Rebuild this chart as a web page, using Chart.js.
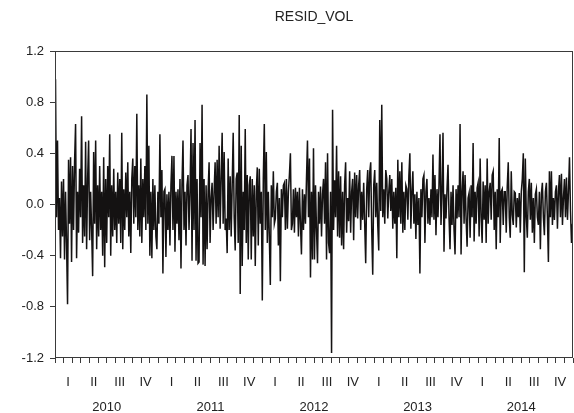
<!DOCTYPE html>
<html>
<head>
<meta charset="utf-8">
<script src="https://cdn.jsdelivr.net/npm/chart.js@4/dist/chart.umd.min.js"></script>
<style>
html,body{margin:0;padding:0;background:#fff;}
canvas{display:block;}
</style>
</head>
<body>
<canvas id="c" width="574" height="413"></canvas>
<script>
// ---- data (~1 value per pixel column, Jan 2010 - Dec 2014) ----
const chartTitle = 'RESID_VOL';
const years = ['2010', '2011', '2012', '2013', '2014'];
const quarterLabels = ['I', 'II', 'III', 'IV'];
const yTicks = [-1.2, -0.8, -0.4, 0.0, 0.4, 0.8, 1.2];
const residVol = [
 0.98,-0.10,0.50,-0.20,0.05,-0.42,0.18,-0.25,0.20,-0.43,
 0.10,-0.30,-0.78,0.35,-0.15,0.37,-0.45,0.30,-0.20,0.33,
 0.63,-0.42,0.10,-0.22,0.28,-0.10,0.69,-0.30,0.15,-0.25,
 0.49,-0.35,0.20,0.50,-0.28,0.10,-0.20,-0.56,0.41,-0.15,
 0.50,-0.35,0.15,-0.25,0.30,-0.20,0.10,-0.40,0.37,-0.49,
 0.20,-0.30,0.30,-0.10,0.55,-0.40,0.15,-0.25,0.28,-0.20,
 0.10,-0.30,0.25,-0.15,0.20,-0.30,0.56,-0.35,0.12,-0.20,
 0.25,-0.10,0.33,-0.25,0.10,-0.38,0.20,0.36,-0.15,0.30,
 -0.10,0.71,-0.20,0.15,-0.25,0.36,-0.30,0.20,-0.10,0.30,
 -0.20,0.86,-0.15,0.46,-0.40,0.10,-0.42,0.20,-0.20,0.15,
 -0.25,-0.35,0.10,-0.15,0.55,-0.10,0.27,-0.54,0.10,0.12,
 -0.41,0.08,-0.20,0.10,-0.32,0.15,0.38,-0.20,0.38,-0.37,
 0.10,-0.15,0.12,-0.28,0.20,-0.50,0.15,0.50,-0.20,0.10,
 -0.32,0.15,0.23,-0.20,0.10,0.59,-0.44,0.48,-0.20,0.66,
 -0.44,0.20,-0.46,-0.45,0.48,-0.10,0.78,-0.47,0.20,-0.48,
 0.15,-0.35,0.10,0.33,-0.30,0.05,0.17,-0.20,0.10,0.33,
 -0.15,0.35,-0.10,0.46,-0.19,0.20,0.56,-0.15,0.41,-0.20,
 -0.11,-0.38,0.36,-0.20,0.22,-0.25,0.15,0.56,-0.10,-0.36,
 0.20,0.25,-0.30,0.70,-0.70,0.46,-0.48,0.10,-0.20,0.59,
 -0.30,0.23,-0.43,0.15,0.22,-0.43,0.20,-0.25,0.15,-0.48,
 0.10,0.29,-0.32,0.28,-0.15,0.10,-0.75,0.20,0.63,-0.20,
 0.41,-0.30,0.10,-0.25,-0.63,0.15,-0.10,0.26,-0.15,-0.11,
 0.10,0.17,-0.32,0.05,-0.60,0.12,-0.10,0.15,0.17,-0.20,
 0.20,-0.19,0.10,0.23,0.40,-0.20,-0.15,0.12,-0.22,0.13,
 -0.10,0.10,-0.25,0.13,-0.15,-0.39,0.12,-0.20,0.08,-0.15,
 0.20,0.50,-0.10,0.36,-0.57,0.10,-0.43,0.44,-0.43,0.15,
 -0.20,-0.46,0.10,-0.15,0.14,-0.25,0.08,0.20,-0.15,0.33,
 -0.43,0.40,-0.30,-0.38,0.10,-1.16,0.74,-0.20,0.19,-0.10,
 0.46,-0.25,0.26,-0.26,0.22,-0.32,0.10,-0.35,0.15,0.33,
 -0.22,0.05,-0.13,0.26,-0.22,0.10,0.20,-0.28,0.25,-0.10,
 0.23,-0.11,0.15,0.27,-0.20,0.10,-0.12,0.17,-0.15,-0.46,
 0.12,0.27,-0.10,0.25,0.33,-0.20,-0.55,0.15,0.27,-0.10,
 0.17,-0.16,-0.36,0.66,-0.05,0.78,-0.10,0.12,-0.15,0.27,
 0.20,-0.11,0.10,0.23,-0.05,0.20,-0.19,0.10,-0.15,0.13,
 -0.42,0.35,-0.10,0.26,-0.15,0.33,-0.22,0.10,-0.20,0.15,
 0.12,-0.12,0.22,0.40,-0.19,0.10,0.26,-0.15,0.08,-0.27,
 0.10,-0.16,0.05,-0.54,0.12,-0.10,0.20,0.23,-0.30,0.10,
 0.20,-0.15,0.05,-0.16,0.12,-0.10,0.39,-0.12,0.23,-0.24,
 0.12,-0.10,0.15,0.55,-0.16,0.10,0.56,-0.37,0.08,-0.11,
 0.12,0.31,-0.10,-0.35,0.10,-0.16,0.15,-0.20,-0.39,0.12,
 -0.11,0.15,-0.10,0.63,-0.39,0.10,0.26,-0.15,0.23,-0.11,
 -0.33,0.05,0.09,-0.26,0.15,-0.10,0.48,-0.29,0.10,-0.15,
 0.13,0.17,-0.25,0.36,-0.10,-0.30,0.18,-0.12,0.15,-0.30,
 0.36,-0.15,0.10,0.17,-0.12,0.23,0.26,-0.20,0.10,-0.35,
 0.12,-0.10,0.52,-0.30,0.10,0.12,-0.16,0.10,0.10,-0.22,
 0.14,0.33,-0.10,-0.26,0.26,-0.08,-0.16,0.10,0.09,-0.18,
 0.05,-0.10,0.09,-0.22,0.10,0.20,0.40,-0.53,0.36,-0.10,
 -0.26,0.10,0.20,-0.12,0.17,-0.22,0.05,-0.30,0.08,0.12,
 -0.10,-0.16,0.10,-0.35,0.08,0.17,-0.10,-0.24,0.10,0.17,
 -0.10,-0.45,0.26,-0.10,0.26,-0.16,0.05,-0.12,0.10,0.15,
 -0.19,0.10,0.23,-0.10,0.24,-0.16,0.05,0.20,-0.10,0.21,
 -0.12,0.10,0.37,-0.05,-0.30,-0.15
];

// ---- build chart structures from the arrays ----
const nMonths = years.length * 12;
const points = residVol.map((v, i) => ({ x: nMonths * (i + 0.5) / residVol.length, y: v }));
const quarterTicks = [];
for (let y = 0; y < years.length; y++) {
  for (let q = 0; q < 4; q++) quarterTicks.push({ value: y * 12 + q * 3 + 1.5, label: quarterLabels[q] });
}
const yearTicks = years.map((lab, i) => ({ value: i * 12 + 6, label: lab }));
const monthTicks = [];
for (let m = 0; m <= nMonths; m++) monthTicks.push({ value: m });

const FONT = "'Liberation Sans', Arial, sans-serif";
const INK = '#3a3a3a';

const framePlugin = {
  id: 'frameAndTitle',
  afterDraw(chart) {
    const { ctx, chartArea: a } = chart;
    ctx.save();
    ctx.strokeStyle = INK;
    ctx.lineWidth = 1;
    const l = Math.round(a.left) + 0.5, t = Math.round(a.top) + 0.5;
    const r = Math.round(a.right) - 0.5, b = Math.round(a.bottom) - 0.5;
    ctx.strokeRect(l, t, r - l, b - t);
    ctx.fillStyle = '#222';
    ctx.font = '14px ' + FONT;
    ctx.textAlign = 'center';
    ctx.textBaseline = 'alphabetic';
    ctx.fillText(chartTitle, (a.left + a.right) / 2, 21);
    ctx.restore();
  }
};

new Chart(document.getElementById('c'), {
  type: 'line',
  data: {
    datasets: [{
      data: points,
      borderColor: '#141212',
      borderWidth: 1.5,
      pointRadius: 0,
      tension: 0,
      fill: false
    }]
  },
  options: {
    responsive: false,
    animation: false,
    devicePixelRatio: 1,
    layout: { padding: { top: 51, right: 1, left: 0, bottom: 0 } },
    plugins: { legend: { display: false }, title: { display: false }, tooltip: { enabled: false } },
    scales: {
      y: {
        type: 'linear', min: -1.2, max: 1.2,
        afterBuildTicks: s => { s.ticks = yTicks.map(v => ({ value: v })); },
        afterFit: s => { s.width = 55; },
        ticks: {
          callback: v => (Math.abs(v) < 1e-9 ? 0 : v).toFixed(1),
          color: '#222', font: { family: FONT, size: 13 }, padding: 6
        },
        grid: { drawOnChartArea: false, drawTicks: true, tickLength: 5, color: INK },
        border: { display: false }
      },
      x: {
        type: 'linear', min: 0, max: nMonths, position: 'bottom', weight: 0,
        afterBuildTicks: s => { s.ticks = monthTicks.map(t => ({ value: t.value })); },
        afterFit: s => { s.height = 6; },
        ticks: { display: false },
        grid: { drawOnChartArea: false, drawTicks: true, tickLength: 5, color: INK },
        border: { display: false }
      },
      xq: {
        type: 'linear', min: 0, max: nMonths, position: 'bottom', weight: 1,
        afterBuildTicks: s => { s.ticks = quarterTicks.map(t => ({ value: t.value })); },
        afterFit: s => { s.height = 24; },
        ticks: {
          autoSkip: false, maxRotation: 0,
          callback: (v, i) => quarterTicks[i].label,
          color: '#222', font: { family: FONT, size: 13 }, padding: 3
        },
        grid: { display: false },
        border: { display: false }
      },
      xy: {
        type: 'linear', min: 0, max: nMonths, position: 'bottom', weight: 2,
        afterBuildTicks: s => { s.ticks = yearTicks.map(t => ({ value: t.value })); },
        afterFit: s => { s.height = 25; },
        ticks: {
          autoSkip: false, maxRotation: 0,
          callback: (v, i) => yearTicks[i].label,
          color: '#222', font: { family: FONT, size: 13 }, padding: 4
        },
        grid: { display: false },
        border: { display: false }
      }
    }
  },
  plugins: [framePlugin]
});
</script>
</body>
</html>
